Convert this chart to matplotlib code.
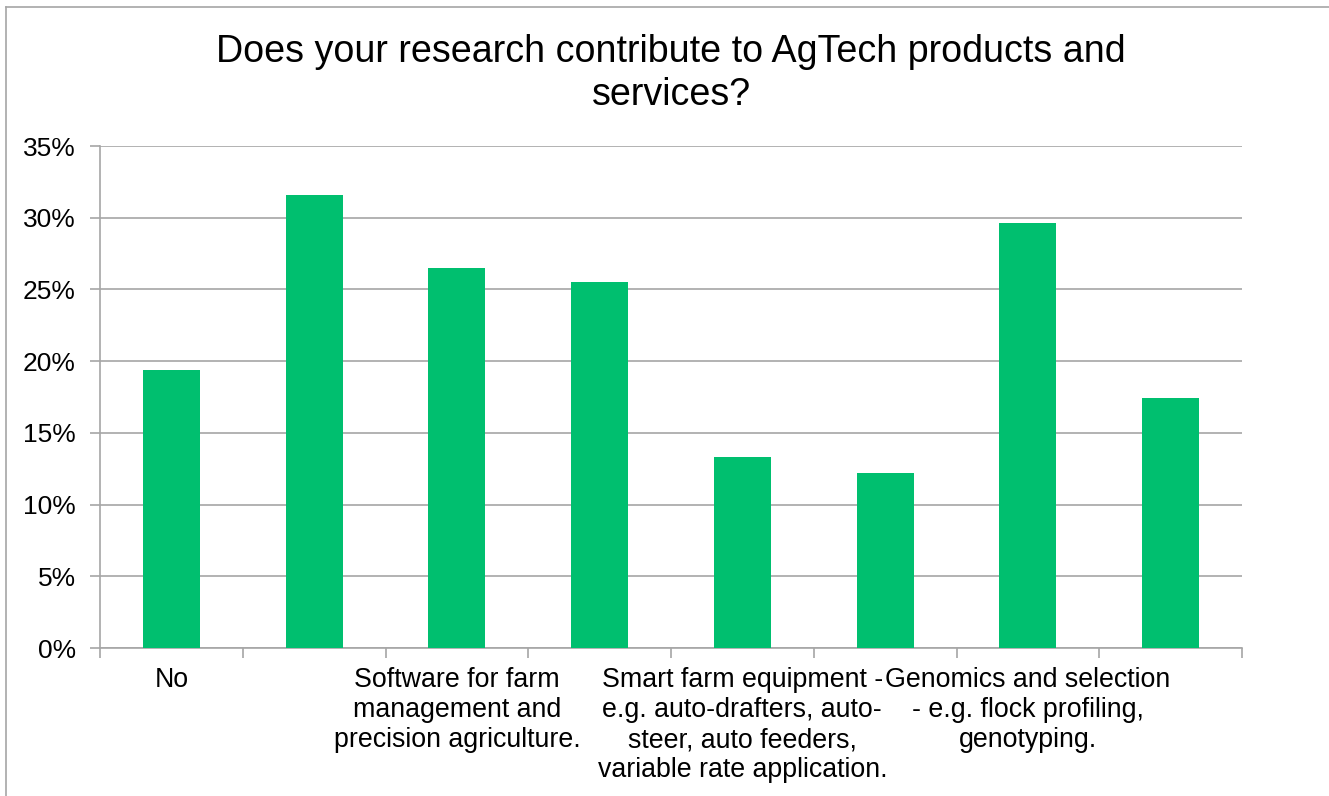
import matplotlib
matplotlib.use("Agg")
import matplotlib.pyplot as plt
from matplotlib.lines import Line2D
from matplotlib.ticker import FixedLocator, FuncFormatter

plt.rcParams['font.family'] = ['Liberation Sans', 'DejaVu Sans']

title = "Does your research contribute to AgTech products and\nservices?"
categories = [
    "No",
    "",
    "Software for farm\nmanagement and\nprecision agriculture.",
    "",
    "Smart farm equipment -\ne.g. auto-drafters, auto-\nsteer, auto feeders,\nvariable rate application.",
    "",
    "Genomics and selection\n- e.g. flock profiling,\ngenotyping.",
    "",
]
values = [19.4, 31.6, 26.5, 25.5, 13.3, 12.2, 29.6, 17.4]
yticks = [0, 5, 10, 15, 20, 25, 30, 35]

W, H = 1329, 796
fig = plt.figure(figsize=(W / 100, H / 100), dpi=100)
ax = fig.add_axes([100 / W, 1 - 648 / H, (1242 - 100) / W, (648 - 146) / H])

grid_c = '#A6A6A6'
bar_c = '#00BF6F'

x = list(range(len(values)))
ax.bar(x, values, width=0.4, color=bar_c, zorder=3)

ax.set_xlim(-0.5, len(values) - 0.5)
ax.set_ylim(0, 35)
ax.set_yticks(yticks)
ax.yaxis.set_major_formatter(FuncFormatter(lambda v, p: f"{int(v)}%"))
ax.grid(axis='y', color=grid_c, linewidth=1.2, zorder=0)

ax.set_xticks(x)
ax.set_xticklabels(categories, fontsize=19.3, linespacing=1.2, va='top')
ax.xaxis.set_minor_locator(FixedLocator([i - 0.5 for i in range(len(values) + 1)]))
ax.tick_params(axis='x', which='major', length=0, pad=14)
ax.tick_params(axis='x', which='minor', length=7, width=1.2, color=grid_c)
ax.tick_params(axis='y', length=7, width=1.2, color=grid_c, labelsize=19, pad=10.5)

for s in ['top', 'right']:
    ax.spines[s].set_visible(False)
for s in ['left', 'bottom']:
    ax.spines[s].set_color(grid_c)
    ax.spines[s].set_linewidth(1.2)

fig.text(671 / W, 1 - 34 / H, title, ha='center', va='top', fontsize=27.1, linespacing=1.25)

# outer chart border (top and left visible)
fig.add_artist(Line2D([6 / W, 1], [1 - 7 / H, 1 - 7 / H], transform=fig.transFigure, color='#A6A6A6', lw=1.2))
fig.add_artist(Line2D([6 / W, 6 / W], [0, 1 - 7 / H], transform=fig.transFigure, color='#A6A6A6', lw=1.2))

fig.savefig('out.png', dpi=100)
